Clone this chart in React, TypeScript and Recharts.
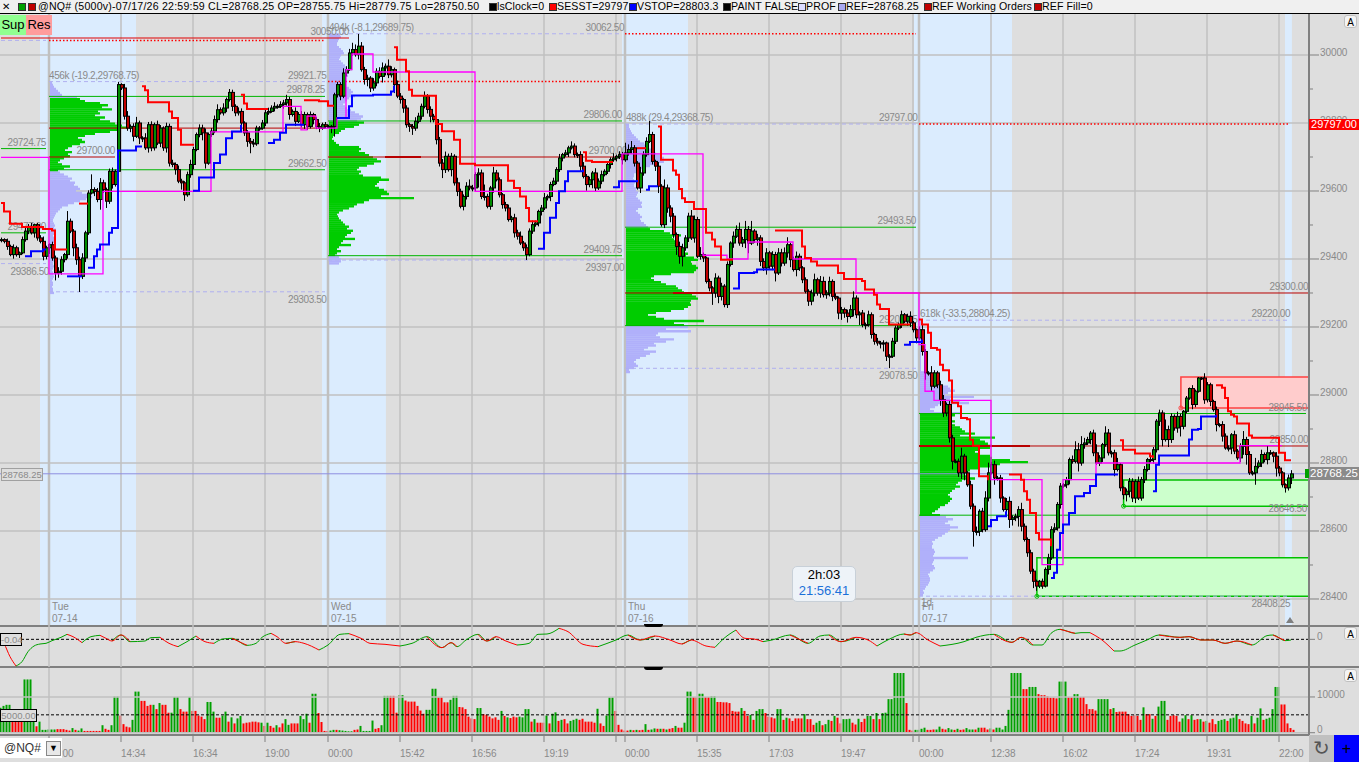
import React from 'react';
import { ComposedChart, Bar, Line, XAxis, YAxis, ReferenceArea, ReferenceLine, ReferenceDot } from 'recharts';

// closes by session
const closesTue = [29457,29452,29437,29413,29433,29413,29418,29457,29482,29496,29477,29501,29462,29452,29408,29433,29442,29403,29359,29364,29398,29413,29511,29482,29433,29398,29349,29403,29477,29594,29604,29599,29575,29624,29604,29570,29658,29619,29658,29913,29903,29820,29785,29790,29761,29800,29756,29756,29727,29795,29727,29795,29741,29785,29727,29790,29682,29678,29663,29629,29624,29589,29648,29678,29722,29766,29785,29771,29682,29766,29776,29810,29839,29830,29844,29869,29890,29849,29830,29834,29800,29771,29746,29741,29739,29785,29785,29800,29830,29834,29844,29849,29849,29854,29859,29869,29825,29834,29805,29825,29795,29825,29790,29825,29810,29790,29785,29795,29790];
const closesWed = [29790,29790,29883,29913,29879,29947,29957,30006,30016,30001,30026,29957,29928,29932,29903,29918,29952,29937,29962,29967,29942,29957,29913,29879,29869,29844,29795,29790,29785,29805,29820,29849,29879,29840,29820,29810,29751,29682,29663,29702,29663,29702,29624,29599,29555,29584,29614,29609,29609,29648,29653,29584,29584,29555,29609,29653,29633,29589,29560,29550,29516,29521,29477,29467,29447,29433,29413,29482,29501,29506,29540,29550,29580,29584,29619,29629,29663,29697,29707,29712,29727,29732,29707,29707,29673,29643,29619,29633,29653,29609,29629,29648,29658,29678,29692,29697,29702,29707,29692];
const closesThu = [29712,29722,29727,29682,29609,29653,29707,29746,29766,29687,29673,29614,29501,29609,29550,29526,29472,29437,29408,29433,29462,29526,29462,29516,29408,29413,29403,29334,29315,29300,29344,29290,29320,29266,29384,29447,29467,29487,29447,29457,29487,29447,29482,29457,29462,29393,29374,29418,29379,29413,29359,29418,29388,29418,29442,29398,29369,29408,29374,29339,29305,29276,29300,29339,29300,29334,29295,29300,29334,29290,29285,29241,29251,29241,29231,29251,29285,29236,29241,29207,29207,29236,29178,29158,29153,29153,29153,29114,29114,29158,29197,29207,29236,29217,29231,29212,29192,29168];
const closesFri = [29192,29128,29065,29065,29026,29065,29030,28986,28947,28972,28874,28805,28805,28771,28820,28771,28736,28673,28599,28599,28658,28604,28697,28771,28795,28756,28756,28697,28663,28687,28634,28639,28643,28663,28614,28575,28536,28482,28452,28438,28452,28438,28487,28521,28604,28609,28678,28732,28736,28751,28810,28805,28839,28800,28854,28859,28869,28888,28830,28800,28815,28854,28888,28830,28830,28781,28795,28727,28707,28717,28746,28697,28746,28697,28751,28781,28810,28810,28839,28923,28947,28869,28898,28869,28937,28903,28937,28908,28952,28991,29019,28972,29011,29050,29050,28986,29030,28981,28957,28913,28913,28879,28844,28844,28883,28835,28815,28849,28869,28825,28771,28771,28790,28800,28825,28810,28830,28830,28820,28785,28771,28736,28727,28756,28768];

const wickUp = [6,4,8,5,10,6,4,9,12,7,10,3,5,8,14,6,4,9,7,12,
10,5,30,8,6,12,9,14,6,8,45,7,10,14,9,6,8,11,5,8,
4,12,15,6,9,18,7,5,14,8,10,6,12,9,5,11,8,10,6,12,
7,5,9,14,8,6,11,10,13,6,9,12,16,7,14,6,10,8,6,12,
9,5,8,10,12,7,6,9,14,11,8,12,6,10,9,14,8,6,12,7,
10,8,6,9,5,7,10,6,8,5,4,6,8,7,14,10,12,20,15,36,
12,8,10,6,14,9,12,16,8,20,10,6,12,9,5,8,6,7,12,10,
8,14,6,9,7,5,8,12,14,8,10,6,15,8,6,12,20,9,7,14,
10,35,8,6,18,9,7,5,8,10,6,12,9,14,6,10,8,12,7,5,
9,14,6,8,10,7,12,5,9,6,14,8,6,10,12,7,9,6,14,8,
12,6,9,7,14,5,10,8,30,15,20,8,6,18,10,12,40,8,5,12,
6,25,10,8,9,6,14,12,8,10,18,12,8,22,6,4,8,5,14,7,
10,6,9,5,14,12,20,8,25,10,30,6,12,8,9,14,6,10,8,14,
12,16,22,6,9,14,8,5,7,6,10,18,6,16,14,8,14,6,9,5,
8,6,10,14,20,8,5,9,6,12,7,5,10,6,8,4,6,10,8,6,
12,5,8,15,6,4,10,18,7,5,20,8,6,12,14,6,10,9,6,8,
25,7,5,12,8,14,6,10,20,30,8,12,6,9,5,10,14,7,8,10,
20,8,6,9,7,5,4,8,6,12,10,14,7,9,5,8,6,12,25,20,
25,15,8,6,10,25,8,5,20,12,6,9,20,5,4,8,10,9,6,14,
8,10,5,12,8,6,10,8,30,12,9,6,14,8,4,6,3,10,5,3,
3,14,8,6,5,9,4,10,8,8,5,12,6,9,25,8,10,6,25,8,
14,6,20,8,4,12,6,5,4,10,11];
const wickDown = [8,6,10,5,12,6,10,4,6,9,5,14,8,6,12,9,18,8,22,14,
10,8,12,6,25,15,46,8,12,6,4,14,8,30,10,20,8,12,6,4,
6,10,8,12,15,5,18,12,6,14,10,8,6,12,9,14,10,8,15,6,
20,18,6,9,14,5,8,22,16,5,7,6,9,5,8,12,6,14,10,8,
12,9,16,30,10,6,8,5,9,6,4,10,7,5,12,8,15,6,14,5,
8,12,10,6,14,8,12,5,6,4,20,30,8,12,6,10,4,8,6,14,
6,15,20,12,8,10,6,18,22,10,8,25,6,12,14,9,16,20,8,6,
10,6,12,18,8,14,10,25,10,6,20,8,14,6,12,9,7,10,12,38,
8,12,6,10,14,5,8,12,10,6,8,14,10,6,9,16,5,8,6,10,
12,6,8,14,5,9,7,10,6,12,5,8,10,14,6,18,8,25,12,6,
9,5,8,12,6,10,8,14,6,8,12,10,5,15,8,6,5,9,14,20,
6,10,14,18,10,25,22,30,8,12,6,14,5,10,12,6,10,35,14,20,
12,8,10,6,14,5,8,12,25,30,6,10,18,14,9,20,8,12,25,6,
10,8,14,22,6,20,9,10,6,14,12,10,8,14,8,12,10,14,6,18,
20,14,18,6,20,10,30,8,14,6,12,10,8,16,25,14,35,5,8,6,
10,6,14,12,8,16,6,12,20,8,14,6,10,18,12,10,14,24,6,12,
18,22,6,9,45,12,14,8,6,10,5,20,8,14,6,12,25,18,10,30,
15,6,12,8,20,14,6,8,4,15,6,9,8,12,5,10,14,7,6,25,
8,12,6,14,10,5,9,12,6,8,14,20,6,10,14,20,18,12,15,6,
8,10,6,9,12,8,14,20,6,22,10,8,14,30,9,6,5,14,8,4,
6,12,8,14,6,20,8,16,5,10,18,9,6,12,25,30,6,8,35,6,
12,8,14,6,18,25,10,8,14,8,18];

// volume in hundreds, minus = red bar
const volumeHundreds = [70,75,78,78,-36,-36,-36,-36,149,149,149,33,-18,31,8,8,9,9,9,-10,
-10,-10,-8,-6,13,-8,6,12,-5,-5,-5,-5,-5,-5,21,-11,-8,21,101,101,
-48,-24,-17,-15,36,115,115,-89,-89,-75,-78,78,-66,83,-78,-78,-56,56,100,100,
-66,-59,-59,100,-61,-61,-48,-45,-38,86,86,59,-42,-42,48,59,-31,43,-26,40,
47,-26,-28,-29,-31,-31,-29,28,-19,28,-19,-14,21,-15,-26,38,22,-26,-26,-26,
47,38,53,-28,109,109,-55,-30,-5,-5,6,8,-8,7,6,5,4,4,-8,-9,19,5,5,5,34,-11,-13,21,103,103,
-103,-103,-56,105,105,-90,-87,-87,-87,-75,-62,-53,64,64,123,123,-99,-99,-85,-85,
92,103,103,-72,-71,-66,-45,-40,-38,69,69,-52,-50,-45,-40,-43,-36,61,-47,43,
-41,-45,-43,45,43,66,66,-31,38,-28,-28,-28,48,-26,53,57,-33,36,-38,-26,
33,36,39,-36,-39,-31,-31,-31,-28,67,-26,-19,48,99,99,-61,-22,-9,
-6,-6,8,-7,8,-7,-8,24,-8,9,12,-11,11,-11,9,-11,-13,19,
-14,-14,28,115,115,-100,-100,109,109,-100,-100,102,102,-86,-86,-85,-85,-83,-61,-59,-59,69,-61,-47,50,-36,61,66,66,-55,-45,-43,-40,66,66,-36,42,-40,-33,-40,-40,-40,52,-38,-38,-22,28,33,-21,24,36,-33,47,-42,-26,38,38,39,-28,-23,39,-30,-39,47,47,-38,55,-38,55,56,94,94,167,167,167,167,-83,-8,-6,8,
8,11,14,-8,-8,-9,9,17,-11,-9,13,9,-8,11,-8,-9,13,9,9,-9,14,-14,-14,-9,12,-9,14,14,
9,19,64,167,167,167,167,-122,-122,128,128,128,-108,-105,-105,-102,-98,-98,-96,143,143,143,-99,-99,108,108,-100,-100,-80,-66,-66,-62,94,94,94,94,-66,69,-58,-59,-59,-59,-52,-47,-49,-47,-36,71,-52,-52,39,-47,73,89,89,-36,-47,-49,-47,-31,40,49,-38,49,-36,-38,38,-31,33,-28,-38,-24,33,36,38,-33,40,42,52,-38,-33,-26,-24,47,-26,42,68,-36,39,42,66,128,128,-79,-79,-26,-13,-8];

// oscillator turning points
const oscBars = [0,1,3,5,7,9,11,13,15,17,20,22,24,27,30,33,35,37,40,43,48,50,53,56,59,62,65,68,71,74,77,82,85,87,90,92,95,98,101,106,109,113,116,120,123,128,133,137,142,147,150,152,155,159,162,165,168,172,176,179,182,186,189,194,199,205,209,213,218,223,227,230,235,238,241,245,248,251,254,257,263,269,273,276,280,285,289,292,296,301,303,305,309,313,321,325,331,337,340,344,347,350,353,358,360,363,367,371,373,378,382,386,393,396,400,404,408,412,417,422,424,428,430];
const oscValues = [0.03,-0.12,-0.52,-0.8,-0.67,-0.37,-0.2,-0.14,-0.12,-0.04,0.06,0.15,0.08,-0.1,0.08,0.12,0.03,-0.05,0.13,-0.07,-0.05,0.05,0.06,-0.12,-0.22,-0.07,0.1,-0.07,-0.12,0.01,0.03,-0.18,-0.12,0.06,0.18,0.08,-0.12,-0.07,-0.12,-0.32,-0.17,0.15,0.17,0.03,-0.12,-0.15,-0.2,-0.12,0.08,-0.25,-0.1,-0.22,-0.02,0.15,-0.05,0.08,-0.04,-0.17,-0.12,0.15,0.16,0.33,0.23,-0.15,-0.22,-0.02,0.13,-0.02,0.1,-0.02,-0.14,-0.02,-0.2,-0.24,0.03,0.28,0.03,0.01,-0.07,-0.02,0.13,-0.12,0.1,0.13,-0.07,0.06,-0.02,-0.2,0,0.16,0.13,0.2,-0.02,-0.2,-0.07,0.06,0.15,-0.09,0.06,-0.17,-0.17,0.18,0.3,0.18,0.2,0.2,-0.02,-0.35,-0.35,-0.17,-0.02,0.13,0.06,0.08,-0.02,-0.02,-0.12,-0.05,-0.17,0.11,0.13,-0.04,-0.02];

// stop lines, [bar, price]
const redStops = [
  [[0,29565],[1,29540],[3,29504],[7,29494],[14,29488],[17,29484],[18,29428],[22,29428]],
  [[26,29563],[29,29563]],
  [[47,29908],[48,29896],[49,29861],[56,29834],[57,29815],[59,29780],[60,29736],[64,29733]],
  [[80,29883],[81,29857],[82,29841],[89,29841]],
  [[101,29867],[106,29864],[109,29851],[111,29851]],
  [[131,30023],[132,29986],[135,29952],[136,29898],[137,29880],[145,29797],[147,29776],[151,29751],[153,29680],[158,29676],[169,29630],[171,29609],[173,29584],[175,29550],[176,29511],[179,29511]],
  [[194,29714],[195,29689],[197,29685],[204,29685]],
  [[212,29726],[215,29726]],
  [[219,29790],[220,29692],[224,29660],[225,29648],[226,29606],[227,29579],[228,29568],[231,29547],[235,29477],[237,29457],[238,29437],[240,29398],[244,29398]],
  [[258,29484],[267,29437],[268,29403],[270,29393],[272,29381],[279,29359],[281,29341],[287,29335],[288,29310],[291,29295],[292,29266],[293,29253],[296,29207],[303,29207]],
  [[306,29222],[307,29207],[309,29183],[310,29138],[312,29133],[313,29089],[314,29073],[316,29043],[317,28977],[319,28967],[320,28932],[322,28929],[323,28868],[324,28851],[326,28761],[329,28749]],
  [[336,28766],[340,28751],[341,28717],[342,28692],[343,28653],[345,28594],[346,28575],[350,28555]],
  [[373,28867],[374,28839],[378,28828],[383,28820],[384,28815]],
  [[405,29029],[407,29021],[408,28991],[409,28952],[410,28942],[411,28937],[412,28916],[416,28881],[417,28874],[426,28830],[428,28808],[430,28808]],
];
const blueStops = [
  [[8,29408],[10,29423],[14,29428],[15,29428]],
  [[22,29349],[27,29349]],
  [[29,29374],[31,29408],[32,29428],[33,29443],[36,29477],[37,29491],[39,29719],[43,29719],[45,29731],[47,29731]],
  [[64,29601],[66,29640],[71,29682],[73,29707],[75,29755],[77,29775],[80,29795]],
  [[89,29741],[91,29751],[93,29771],[95,29795],[101,29795]],
  [[112,29815],[116,29849],[117,29881],[124,29883],[130,29893],[131,29910]],
  [[179,29430],[181,29477],[183,29521],[185,29565],[186,29599],[188,29629],[189,29658],[194,29663]],
  [[204,29611],[206,29629],[212,29632]],
  [[215,29604],[216,29614],[219,29614]],
  [[244,29313],[246,29359],[251,29361],[252,29369],[258,29369]],
  [[301,29148],[303,29156],[307,29163]],
  [[329,28614],[330,28632],[332,28643],[335,28658]],
  [[350,28462],[351,28477],[352,28545],[353,28594],[354,28619],[356,28653],[358,28702],[361,28712],[363,28732],[365,28766],[372,28769]],
  [[384,28717],[385,28795],[386,28822],[395,28822],[396,28869],[397,28898],[399,28900],[400,28937],[405,28941]],
];
const magentaPath = [[0,29699],[16,29356],[34,29599],[70,29774],[94,29849],[100,29780],[102,29820],[105,29785],[112,29815],[115,29957],[117,30003],[124,29950],[158,29599],[207,29709],[234,29411],[242,29400],[249,29450],[264,29400],[285,29300],[306,29148],[308,29011],[311,28984],[330,28751],[347,28501],[354,28751],[365,28800],[413,28851],[427,28851]];

// horizontal levels, [from bar, to bar, price]
const greenLevels = [[0,15,29724.75],[0,15,29477],[16,108,29878.25],[16,108,29662.5],[109,207,29806],[109,207,29409.75],[208,305,29493.5],[208,305,29204],[306,435,28945.5],[306,435,28646.5]];
const pocLevels = [[16,38,29700],[16,108,29785],[109,207,29700],[208,436,29300],[306,436,28850]];
const thickPocLevels = [[128,140,29700],[224,237,29300],[306,343,28850]];
const dottedLevels = [[16,108,30043],[109,207,29921.75],[208,305,30062.5],[306,429,29797]];
const dashedLevels = [[0,15,30043],[0,15,29386.5],[16,108,29921.75],[16,108,29303.5],[109,207,30062.5],[109,207,29397],[208,305,29797],[208,305,29078.5],[306,429,29220],[306,429,28408.25]];

// level notes: text, bar it is tied to, price, side of the line, anchor
const noteTexts = ['29724.75','29477.00','29700.00','29386.50','456k (-19.2,29768.75)','29921.75','29878.25','29662.50','29303.50','30050.00','494k (-8.1,29689.75)','30062.50','29806.00','29700.00','29409.75','29397.00','488k (29.4,29368.75)','29797.00','29493.50','29204.25','29078.50','618k (-33.5,28804.25)','29220.00','29300.00','28945.50','28850.00','28646.50','28408.25'];
const noteBars = [15,15,38,16,16,108.5,108,108.5,108.5,116,109.3,207.7,207,208.7,207,207.7,208.3,305.5,305,305.5,305.5,306.3,429.7,435.7,435.3,435.7,435.3,429.7];
const notePrices = [29724.75,29477,29700,29386.5,29921.75,29921.75,29878.25,29662.5,29303.5,30050,30062.5,30062.5,29806,29700,29409.75,29397,29797,29797,29493.5,29204,29078.5,29220,29220,29300,28945.5,28850,28646.5,28408.25];
const noteBelow = [0,0,0,1,0,0,0,0,1,0,0,0,0,0,0,1,0,0,0,0,1,0,0,0,0,0,0,1];
const noteStart = [0,0,0,0,1,0,0,0,0,0,1,0,0,0,0,0,1,0,0,0,0,1,0,0,0,0,0,0];

// volume profiles, relative volume per 6 point row from the top price down
const profileTue = [2,3,4,6,8,10,12,27,30,35,50,58,52,62,48,50,45,55,50,60,65,72,78,70,60,45,35,28,32,35,30,22,18,15,22,18,20,14,10,8,12,20,14,8,10,14,18,22,20,25,24,28,30,26,32,40,42,36,30,24,18,12,10,8,6,5,4,3,3,4,5,4,6,5,4,3,5,6,4,3,4,5,3,4,3,2,3,4,3,3,4,3,2,3,3,4,3,2,3,3,2,3,3,4];
const profileWed = [11,12,10,9,8,8,10,12,14,15,12,11,10,12,14,16,17,18,16,17,19,17,16,15,14,16,20,22,24,22,26,20,18,16,14,16,18,22,26,30,34,32,28,35,30,25,16,12,10,6,4,3,5,7,10,30,32,30,36,40,44,48,52,45,38,30,28,32,30,34,52,60,50,48,46,50,55,58,60,52,85,40,35,28,25,20,14,10,8,9,10,12,14,16,20,18,24,22,18,16,26,14,12,22,10,8,12,8,6,10,12,12,10];
const profileThu = [3,3,4,5,6,8,10,12,14,18,20,22,25,28,30,35,38,36,38,30,24,20,14,10,8,8,7,8,9,8,8,10,10,12,11,10,12,14,16,15,16,12,10,12,14,16,14,15,18,20,22,24,38,44,55,46,48,50,52,50,54,60,58,62,60,68,72,65,66,70,72,70,68,45,28,25,28,35,40,50,52,56,58,66,70,72,65,64,65,62,58,45,30,22,30,38,78,48,58,62,40,65,32,30,34,48,40,28,30,22,18,30,24,20,14,10,8,10,12,8,3,4];
const profileFri = [1,1,1,1,1,1,1,1,1,1,1,1,1,1,1,1,1,1,1,1,1,1,1,1,1,8,10,12,15,18,20,14,28,30,35,28,25,54,30,40,49,18,15,10,14,40,35,30,32,35,30,35,40,42,45,55,40,75,60,65,68,72,70,60,55,58,70,72,90,108,80,72,60,50,48,45,50,55,42,38,36,40,35,32,30,28,30,32,30,28,25,20,18,15,12,20,26,33,28,25,30,38,30,28,25,22,18,15,12,13,12,12,14,15,14,13,48,14,13,12,14,15,13,10,8,9,10,10,9,8,6,5,3,4,3];
const profileStartBars = [16.33,109.33,208.33,306.33];
const profileTops = [29921.75,30062.5,29797,29220];
const valueHighs = [29878.25,29806,29493.5,28945.5];
const valueLows = [29662.5,29409.75,29204,28646.5];

const sessionBands = [[13,45],[107,128.3],[207,229],[304.3,337],[428,430.3]];
const sessionBars = [16,109,208,306];
const sessionDays = ['Tue','Wed','Thu','Fri'];
const sessionDates = ['07-14','07-15','07-16','07-17'];
const tickBars = [16,40,64,88,109,133,157,181,205,208,232,256,280,304,306,330,354,378,402,426];
const tickLabels = ['00:00','14:34','16:34','19:00','00:00','15:42','16:56','19:19','','00:00','15:35','17:03','19:47','','00:00','12:38','16:02','17:24','19:31','22:00'];
const priceTicks = [28400,28500,28600,28700,28800,28900,29000,29100,29200,29300,29400,29500,29600,29700,29800,29900,30000];
const priceGrid = [28400,28600,28800,29000,29200,29400,29600,29800,30000];

const headerItems = [
  ['#00a000', 18, ''], ['#c00000', 28, ''],
  ['#000000', 489, 'lsClock=0'], ['#ff0000', 549, 'SESST=29797'], ['#0000ff', 629, 'VSTOP=28803.3'],
  ['#000000', 723, 'PAINT FALSE'], ['#dcdcff', 798, 'PROF'], ['#a8a8f0', 838, 'REF=28768.25'],
  ['#c00000', 924, 'REF Working Orders'], ['#c00000', 1034, 'REF Fill=0'],
];

const closes = [...closesTue, ...closesWed, ...closesThu, ...closesFri];
const candles = closes.map((close, i) => {
  const open = i === 0 ? close : closes[i - 1];
  return {
    bar: i, open, close,
    range: [Math.min(open, close) - (wickDown[i] ?? 6), Math.max(open, close) + (wickUp[i] ?? 6)],
  };
});
const volumes = volumeHundreds.map((v, i) => ({ bar: i, up: v > 0 ? v * 100 : 0, down: v < 0 ? -v * 100 : 0 }));
const oscRows = oscBars.map((bar, i) => {
  const v = oscValues[i];
  const rising = i > 0 && v >= oscValues[i - 1];
  const nextRising = i < oscBars.length - 1 && oscValues[i + 1] >= v;
  const nextFalling = i < oscBars.length - 1 && oscValues[i + 1] < v;
  const falling = i > 0 && v < oscValues[i - 1];
  return { bar, rise: rising || nextRising ? v : null, fall: falling || nextFalling ? v : null };
});
const toRows = (pts: number[][]) => pts.map(([bar, price]) => ({ bar, price }));
const PROFILE_PIXELS_PER_BAR = 3;
const profileRows = [profileTue, profileWed, profileThu, profileFri].flatMap((rows, s) =>
  rows.map((len, k) => {
    const top = profileTops[s] - k * 6;
    return {
      x1: profileStartBars[s], x2: profileStartBars[s] + len / PROFILE_PIXELS_PER_BAR,
      y1: top, y2: top - 7,
      fill: top <= valueHighs[s] && top > valueLows[s] ? '#00cc00' : '#b0b0fa',
    };
  })
);

const W = 1359;
const FONT = '"Liberation Sans", Arial, sans-serif';
const GREY = '#8a8a8a';
const xDomain: [number, number] = [-1 / 3, 436];
const priceDomain: [number, number] = [28323.5, 30120.6];
const chartMargin = { top: 0, right: 0, bottom: 0, left: 0 };

function Candle(props: any) {
  const { x, y, width, height, payload } = props;
  const cx = Math.round(x + width / 2);
  const [low, high] = payload.range;
  const toY = (p: number) => y + ((high - p) / (high - low)) * height;
  const top = toY(Math.max(payload.open, payload.close));
  const bottom = toY(Math.min(payload.open, payload.close));
  const up = payload.close >= payload.open;
  return (
    <g>
      <line x1={cx + 0.5} x2={cx + 0.5} y1={y} y2={y + height} stroke="#000" strokeWidth={1} />
      <rect x={cx - 0.5} y={top} width={3} height={Math.max(bottom - top, 1)} fill={up ? '#008c00' : '#c00000'} stroke="#000" strokeWidth={1} />
    </g>
  );
}

function PriceTick(props: any) {
  const { x, y, payload } = props;
  const major = payload.value % 200 === 0;
  return (
    <g>
      <line x1={x - 8} x2={x + (major ? 2 : -4)} y1={y} y2={y} stroke="#808080" strokeWidth={1} />
      {major && <text x={x + 3} y={y + 1} fontSize={10} fontFamily={FONT} fill={GREY} letterSpacing={-0.1}>{payload.value}</text>}
    </g>
  );
}

function Note(props: any) {
  const { cx, cy, text, below, start } = props;
  return (
    <text x={cx} y={below ? cy + 11 : cy - 3} textAnchor={start ? 'start' : 'end'} fontSize={10} fontFamily={FONT} fill={GREY} letterSpacing={-0.4}>
      {text}
    </text>
  );
}

function TimeTick(props: any) {
  const { x, y, payload } = props;
  const label = tickLabels[tickBars.indexOf(payload.value)];
  return (
    <g>
      <line x1={x} x2={x} y1={y - 8} y2={y - 1} stroke="#808080" />
      <text x={x} y={y + 14} fontSize={10} fontFamily={FONT} fill={GREY} letterSpacing={-0.1}>{label}</text>
    </g>
  );
}

function Ring(props: any) {
  const { cx, cy, stroke } = props;
  return <circle cx={cx} cy={cy} r={2} fill="none" stroke={stroke} strokeWidth={1} />;
}

const flatAxes = (
  <>
    <XAxis dataKey="bar" type="number" domain={xDomain} allowDataOverflow hide />
    <YAxis orientation="right" width={50} domain={priceDomain} allowDataOverflow ticks={priceTicks} tick={false} axisLine={false} tickLine={false} />
  </>
);

export default function App() {
  const layer = { position: 'absolute', left: 0, top: 14 } as const;
  return (
    <div style={{ position: 'absolute', left: 0, top: 0, width: W, height: 762, background: '#dedede', overflow: 'hidden', fontFamily: FONT }}>
      {/* header */}
      <div style={{ position: 'absolute', left: 0, top: 0, width: W, height: 13, background: '#f0f0f0', borderBottom: '1px solid #000' }}>
        <span style={{ position: 'absolute', left: 2, top: 0, fontSize: 10, lineHeight: '13px' }}>✕</span>
        <span style={{ position: 'absolute', left: 38, top: 0, fontSize: 10.6, whiteSpace: 'nowrap', letterSpacing: 0.22, lineHeight: '13px' }}>
          @NQ# (5000v)-07/17/26 22:59:59 CL=28768.25 OP=28755.75 Hi=28779.75 Lo=28750.50
        </span>
        {headerItems.map(([color, x, text], i) => (
          <React.Fragment key={i}>
            <span style={{ position: 'absolute', left: x as number, top: 3, width: 6, height: 6, background: color as string, border: '1px solid #333' }} />
            <span style={{ position: 'absolute', left: (x as number) + 8, top: 0, fontSize: 10.6, whiteSpace: 'nowrap', letterSpacing: 0.1, lineHeight: '13px' }}>{text}</span>
          </React.Fragment>
        ))}
      </div>

      {/* bands and grid */}
      <div style={layer}>
        <ComposedChart width={W} height={611} margin={chartMargin} data={candles}>
          {flatAxes}
          {sessionBands.map(([a, b], i) => (
            <ReferenceArea key={i} x1={a} x2={b} y1={priceDomain[0]} y2={priceDomain[1]} fill="#dbecfe" fillOpacity={1} stroke="none" />
          ))}
          {tickBars.map((b) => (
            <ReferenceLine key={b} x={b} stroke="#c0c0c0" strokeWidth={sessionBars.includes(b) ? 2.5 : 1.5} />
          ))}
          {priceGrid.map((p) => (
            <ReferenceLine key={p} y={p} stroke="#c0c0c0" strokeWidth={1.5} />
          ))}
        </ComposedChart>
      </div>

      {/* profiles, boxes, levels, notes */}
      <div style={layer}>
        <ComposedChart width={W} height={611} margin={chartMargin} data={candles}>
          {flatAxes}
          {profileRows.map((r, i) => (
            <ReferenceArea key={i} x1={r.x1} x2={r.x2} y1={r.y1} y2={r.y2} fill={r.fill} fillOpacity={1} stroke="none" />
          ))}
          <ReferenceArea x1={393.3} x2={436} y1={28962} y2={29053} fill="#ffcccc" fillOpacity={1} stroke="#ff4040" strokeWidth={1.5} />
          <ReferenceArea x1={374.2} x2={436} y1={28673} y2={28750} fill="#ccffcc" fillOpacity={1} stroke="#00c000" strokeWidth={1.5} />
          <ReferenceArea x1={345.3} x2={436} y1={28408} y2={28521} fill="#ccffcc" fillOpacity={1} stroke="#00c000" strokeWidth={1.5} />
          <ReferenceDot x={393.3} y={28962} r={2} shape={(p: any) => <Ring {...p} stroke="#ff4040" />} />
          <ReferenceDot x={374.2} y={28673} r={2} shape={(p: any) => <Ring {...p} stroke="#00c000" />} />
          <ReferenceDot x={345.3} y={28408} r={2} shape={(p: any) => <Ring {...p} stroke="#00c000" />} />
          {dashedLevels.map(([a, b, p], i) => (
            <ReferenceLine key={i} segment={[{ x: a, y: p }, { x: b, y: p }]} stroke="#b0b0f0" strokeWidth={1} strokeDasharray="4 3" />
          ))}
          {greenLevels.map(([a, b, p], i) => (
            <ReferenceLine key={i} segment={[{ x: a, y: p }, { x: b, y: p }]} stroke="#00b400" strokeWidth={1} />
          ))}
          {pocLevels.map(([a, b, p], i) => (
            <ReferenceLine key={i} segment={[{ x: a, y: p }, { x: b, y: p }]} stroke="#b80000" strokeWidth={1} />
          ))}
          {thickPocLevels.map(([a, b, p], i) => (
            <ReferenceLine key={i} segment={[{ x: a, y: p }, { x: b, y: p }]} stroke="#b80000" strokeWidth={2} />
          ))}
          <ReferenceLine segment={[{ x: 0, y: 30050 }, { x: 116, y: 30050 }]} stroke="#e00000" strokeWidth={1} />
          {dottedLevels.map(([a, b, p], i) => (
            <ReferenceLine key={i} segment={[{ x: a, y: p }, { x: b, y: p }]} stroke="#ff0000" strokeWidth={1.5} strokeDasharray="1.5 2" />
          ))}
          <ReferenceLine segment={[{ x: -1 / 3, y: 28768.25 }, { x: 436, y: 28768.25 }]} stroke="#8f8fe0" strokeWidth={1} />
          {noteTexts.map((t, i) => (
            <ReferenceDot key={i} x={noteBars[i]} y={notePrices[i]} r={0}
              shape={(p: any) => <Note {...p} text={t} below={noteBelow[i]} start={noteStart[i]} />} />
          ))}
        </ComposedChart>
      </div>

      {/* candles and stop lines */}
      <div style={layer}>
        <ComposedChart width={W} height={611} margin={chartMargin} data={candles}>
          <XAxis dataKey="bar" type="number" domain={xDomain} allowDataOverflow hide />
          <YAxis orientation="right" width={50} domain={priceDomain} allowDataOverflow ticks={priceTicks} interval={0} tick={<PriceTick />} tickLine={false} axisLine={{ stroke: '#808080', strokeWidth: 2 }} />
          <Line data={toRows(magentaPath)} dataKey="price" type="stepAfter" stroke="#ff00ff" strokeWidth={1.3} dot={false} isAnimationActive={false} />
          <Bar dataKey="range" barSize={2} shape={<Candle />} isAnimationActive={false} />
          {redStops.map((pts, i) => (
            <Line key={i} data={toRows(pts)} dataKey="price" type="stepAfter" stroke="#ff0000" strokeWidth={2} dot={false} isAnimationActive={false} />
          ))}
          {blueStops.map((pts, i) => (
            <Line key={i} data={toRows(pts)} dataKey="price" type="stepAfter" stroke="#0000ff" strokeWidth={2} dot={false} isAnimationActive={false} />
          ))}
        </ComposedChart>
      </div>

      {/* day captions */}
      {sessionBars.map((b, i) => (
        <div key={b} style={{ position: 'absolute', left: b * 3 + 4, top: 601, fontSize: 10, lineHeight: '12px', color: GREY }}>
          {sessionDays[i]}<br />{sessionDates[i]}
        </div>
      ))}
      <div style={{ position: 'absolute', left: 921, top: 597, fontSize: 10, lineHeight: '12px', color: GREY }}>1d</div>

      {/* tags and buttons */}
      <div style={{ position: 'absolute', left: 0, top: 15, width: 26, height: 20, background: '#90ff90', fontSize: 13, textAlign: 'center', lineHeight: '20px' }}>Sup</div>
      <div style={{ position: 'absolute', left: 26, top: 15, width: 26, height: 20, background: '#ff9c9c', fontSize: 13, textAlign: 'center', lineHeight: '20px' }}>Res</div>
      <div style={{ position: 'absolute', left: 1, top: 468, width: 40, height: 11, border: '1px solid #a0a0a0', fontSize: 9.5, color: GREY, lineHeight: '11px', textAlign: 'center', background: '#dedede' }}>28768.25</div>
      <div style={{ position: 'absolute', left: 1309, top: 119, width: 50, height: 11, background: '#ff0000', color: '#fff', fontSize: 11, lineHeight: '11px', textAlign: 'center' }}>29797.00</div>
      <div style={{ position: 'absolute', left: 1309, top: 467, width: 50, height: 13, background: '#8a8a8a', color: '#fff', fontSize: 11.5, lineHeight: '13px', textAlign: 'center' }}>28768.25</div>
      <div style={{ position: 'absolute', left: 1305, top: 469, width: 4, height: 9, background: '#00a000' }} />
      <div style={{ position: 'absolute', left: 792, top: 566, width: 62, height: 34, background: '#eef3f8', border: '1px solid #c8d0d8', borderRadius: 5, textAlign: 'center', fontSize: 13, lineHeight: '16px' }}>
        <div>2h:03</div><div style={{ color: '#1a70d8' }}>21:56:41</div>
      </div>
      {[15, 627, 669].map((t) => (
        <div key={t} style={{ position: 'absolute', left: 1344, top: t, width: 13, height: 13, background: '#f4f4f4', border: '1px solid #c0c0c0', borderRadius: 3, fontSize: 10, textAlign: 'center', lineHeight: '13px', boxSizing: 'border-box' }}>A</div>
      ))}

      {/* oscillator pane */}
      <div style={{ position: 'absolute', left: 0, top: 625, borderTop: '2px solid #808080', boxSizing: 'border-box', width: W, height: 43, borderBottom: '2px solid #808080' }} />
      <div style={{ position: 'absolute', left: 0, top: 625 }}>
        <ComposedChart width={W} height={42} margin={chartMargin} data={oscRows}>
          <XAxis dataKey="bar" type="number" domain={xDomain} allowDataOverflow hide />
          <YAxis orientation="right" width={50} domain={[-0.83, 0.43]} allowDataOverflow ticks={[0]} tick={{ fontSize: 10, fontFamily: FONT, fill: GREY, dy: -3 }} tickLine={{ stroke: '#808080' }} axisLine={{ stroke: '#808080', strokeWidth: 2 }} />
          {tickBars.map((b) => (
            <ReferenceLine key={b} x={b} stroke="#c0c0c0" strokeWidth={1.5} />
          ))}
          <ReferenceLine y={0} stroke="#000" strokeWidth={1} strokeDasharray="3 2" />
          <Line dataKey="rise" type="monotone" stroke="#00a000" strokeWidth={1} dot={false} isAnimationActive={false} />
          <Line dataKey="fall" type="monotone" stroke="#ff0000" strokeWidth={1} dot={false} isAnimationActive={false} />
        </ComposedChart>
      </div>
      <div style={{ position: 'absolute', left: 0, top: 633, width: 20, height: 11, border: '1px solid #000', fontSize: 9.5, lineHeight: '11px', textAlign: 'center', color: GREY, background: '#dedede' }}>-0.04</div>
      <div style={{ position: 'absolute', left: 644, top: 624, width: 19, height: 3, background: '#000', borderRadius: '0 0 3px 3px' }} />
      <div style={{ position: 'absolute', left: 644, top: 667, width: 19, height: 3, background: '#000', borderRadius: '0 0 3px 3px' }} />

      {/* volume pane with the time axis */}
      <div style={{ position: 'absolute', left: 0, top: 668 }}>
        <ComposedChart width={W} height={94} margin={chartMargin} data={volumes}>
          <XAxis dataKey="bar" type="number" domain={xDomain} allowDataOverflow ticks={tickBars} interval={0} height={27} tick={<TimeTick />} tickLine={false} axisLine={{ stroke: '#808080', strokeWidth: 2 }} />
          <YAxis orientation="right" width={50} domain={[-640, 18100]} allowDataOverflow ticks={[0, 10000]} tick={{ fontSize: 10, fontFamily: FONT, fill: GREY, dy: -3 }} tickLine={{ stroke: '#808080' }} axisLine={{ stroke: '#808080', strokeWidth: 2 }} />
          {tickBars.map((b) => (
            <ReferenceLine key={b} x={b} stroke="#c0c0c0" strokeWidth={1.5} />
          ))}
          <ReferenceLine y={10000} stroke="#c0c0c0" strokeWidth={1.5} />
          <ReferenceLine y={0} stroke="#c0c0c0" strokeWidth={1.5} />
          <Bar dataKey="up" stackId="v" fill="#00a000" barSize={2} isAnimationActive={false} />
          <Bar dataKey="down" stackId="v" fill="#ff0000" barSize={2} isAnimationActive={false} />
          <ReferenceLine y={5000} stroke="#000" strokeWidth={1} strokeDasharray="3 2" />
        </ComposedChart>
      </div>
      <div style={{ position: 'absolute', left: 0, top: 709, width: 35, height: 11, border: '1px solid #000', fontSize: 9.5, lineHeight: '11px', textAlign: 'center', color: GREY, background: '#dedede' }}>5000.00</div>

      {/* corner controls */}
      <div style={{ position: 'absolute', left: 0, top: 738, width: 62, height: 20, background: '#fff', fontSize: 12, lineHeight: '20px', paddingLeft: 4, boxSizing: 'border-box', color: '#333' }}>@NQ#</div>
      <div style={{ position: 'absolute', left: 46, top: 741, width: 15, height: 15, background: '#e8e8e8', border: '1px solid #888', boxSizing: 'border-box', fontSize: 9, textAlign: 'center', lineHeight: '13px' }}>▼</div>
      <div style={{ position: 'absolute', left: 1309, top: 735, width: 25, height: 27, background: '#c0c0c0', color: '#555', fontSize: 20, textAlign: 'center', lineHeight: '27px' }}>↻</div>
      <div style={{ position: 'absolute', left: 1334, top: 735, width: 25, height: 27, background: '#0000ff', color: '#000', fontSize: 16, textAlign: 'center', lineHeight: '27px' }}>+</div>
      <div style={{ position: 'absolute', left: 1286, top: 617, width: 0, height: 0, borderLeft: '4px solid transparent', borderRight: '4px solid transparent', borderBottom: '6px solid #808080' }} />
    </div>
  );
}
